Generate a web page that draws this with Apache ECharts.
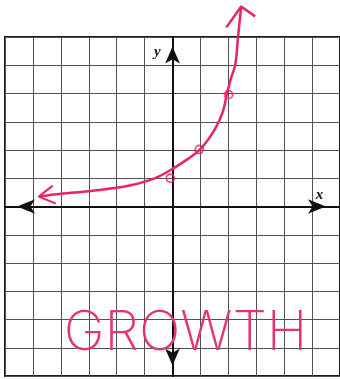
<!DOCTYPE html>
<html>
<head>
<meta charset="utf-8">
<script src="https://cdn.jsdelivr.net/npm/echarts@6/dist/echarts.min.js"></script>
<style>
  html, body { margin: 0; padding: 0; background: #fff; }
  #chart { width: 340px; height: 379px; }
</style>
</head>
<body>
<div id="chart"></div>
<script>
// Hand-sketched growth curve y = b^x on a 12 x 12 grid
const curveX = [-4.79, -4, -3, -2, -1.5, -1, -0.5, 0, 0.5, 1, 1.5, 1.8, 1.96, 2.1, 2.25, 2.35, 2.46];
const curveY = [0.35, 0.45, 0.54, 0.66, 0.75, 0.88, 1.06, 1.33, 1.65, 2.03, 2.7, 3.35, 4.04, 4.55, 5.03, 6.02, 7.08];

// plotted points (open circles)
const pointX = [-0.08, 0.96, 2.01];
const pointY = [1.0, 2.02, 3.96];

// arrowhead strokes at both ends of the curve
const headTopX = [1.93, 2.46, 2.96];
const headTopY = [6.34, 7.08, 6.73];
const headLeftX = [-4.29, -4.79, -4.18];
const headLeftY = [0.74, 0.35, 0.1];

const axisMin = -6, axisMax = 6, step = 1;
const ink = '#e8265e';

const pairs = (xs, ys) => xs.map((x, i) => [x, ys[i]]);

const chart = echarts.init(document.getElementById('chart'));

const option = {
  backgroundColor: '#ffffff',
  animation: false,
  grid: {
    left: 5, right: 0, top: 37, bottom: 3,
    show: true, borderColor: '#1a1a1a', borderWidth: 2, backgroundColor: 'transparent'
  },
  xAxis: {
    type: 'value', min: axisMin, max: axisMax, interval: step,
    axisLabel: { show: false }, axisTick: { show: false },
    splitLine: { show: true, lineStyle: { color: '#525252', width: 1 } },
    axisLine: {
      show: true, onZero: true,
      lineStyle: { color: '#111', width: 2 },
      symbol: ['arrow', 'arrow'], symbolSize: [11, 18], symbolOffset: [12, -14]
    }
  },
  yAxis: {
    type: 'value', min: axisMin, max: axisMax, interval: step,
    axisLabel: { show: false }, axisTick: { show: false },
    splitLine: { show: true, lineStyle: { color: '#525252', width: 1 } },
    axisLine: {
      show: true, onZero: true,
      lineStyle: { color: '#111', width: 2 },
      symbol: ['arrow', 'arrow'], symbolSize: [11, 17], symbolOffset: [10.5, -9.5]
    }
  },
  series: [
    {
      type: 'line', data: pairs(curveX, curveY), smooth: 0.35, clip: false,
      showSymbol: false, lineStyle: { color: ink, width: 2.5 }, z: 5
    },
    {
      type: 'line', data: pairs(headTopX, headTopY), clip: false,
      showSymbol: false, lineStyle: { color: ink, width: 2.5 }, z: 5
    },
    {
      type: 'line', data: pairs(headLeftX, headLeftY), clip: false,
      showSymbol: false, lineStyle: { color: ink, width: 2 }, z: 5
    },
    {
      type: 'scatter', data: pairs(pointX, pointY), symbol: 'circle', symbolSize: 8,
      itemStyle: { color: 'rgba(0,0,0,0)', borderColor: ink, borderWidth: 1.8 }, z: 6
    }
  ]
};
chart.setOption(option);

// axis names and the caption, placed in data space
const yName = chart.convertToPixel({ gridIndex: 0 }, [-0.54, 5.45]);
const xName = chart.convertToPixel({ gridIndex: 0 }, [5.27, 0.42]);
const caption = chart.convertToPixel({ gridIndex: 0 }, [0.47, -4.5]);

chart.setOption({
  graphic: [
    {
      type: 'text', x: yName[0], y: yName[1], z: 10,
      style: { text: 'y', font: 'italic bold 15px "Liberation Serif"', fill: '#111', align: 'center', verticalAlign: 'middle' }
    },
    {
      type: 'text', x: xName[0], y: xName[1], z: 10,
      style: { text: 'x', font: 'italic bold 15px "Liberation Serif"', fill: '#111', align: 'center', verticalAlign: 'middle' }
    },
    {
      type: 'text', x: caption[0], y: caption[1], z: 10,
      style: { text: 'GROWTH', font: '200 55px "Inter", "Roboto", sans-serif', fill: '#e3356c', align: 'center', verticalAlign: 'middle' }
    }
  ]
});
</script>
</body>
</html>
